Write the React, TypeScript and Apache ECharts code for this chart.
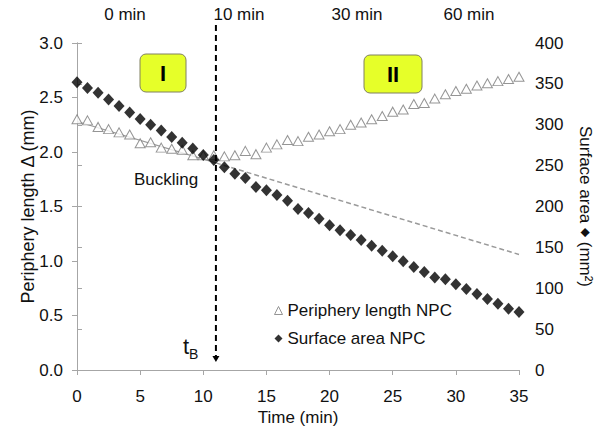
import React, { useEffect, useRef } from "react";
import * as echarts from "echarts";

const times = [
  0, 0.83, 1.67, 2.5, 3.33, 4.17, 5, 5.83, 6.67, 7.5, 8.33, 9.17, 10, 10.83,
  11.67, 12.5, 13.33, 14.17, 15, 15.83, 16.67, 17.5, 18.33, 19.17, 20, 20.83,
  21.67, 22.5, 23.33, 24.17, 25, 25.83, 26.67, 27.5, 28.33, 29.17, 30, 30.83,
  31.67, 32.5, 33.33, 34.17, 35,
];

const peripheryLength = [
  2.3, 2.29, 2.23, 2.21, 2.18, 2.16, 2.08, 2.09, 2.04, 2.03,
  2.02, 1.97, 1.97, 1.97, 1.96, 1.97, 2.01, 1.98, 2.04, 2.07,
  2.11, 2.1, 2.14, 2.16, 2.19, 2.21, 2.25, 2.27, 2.3, 2.33,
  2.37, 2.39, 2.44, 2.45, 2.49, 2.53, 2.56, 2.58, 2.61, 2.63,
  2.65, 2.67, 2.69,
];

const surfaceArea = [
  352, 345, 339, 331, 323, 315, 307, 300, 293, 285,
  278, 271, 263, 257, 248, 240, 235, 224, 220, 214,
  207, 197, 192, 185, 177, 171, 165, 159, 152, 146,
  139, 133, 126, 120, 113, 111, 105, 99, 93, 87,
  81, 75, 71,
];

const fitPhaseI = [
  [0, 2.28],
  [11, 1.9],
];
const fitExtrapolated = [
  [11, 1.9],
  [35, 1.06],
];

const bucklingTime = 11;
const phaseTimeLabels = ["0 min", "10 min", "30 min", "60 min"];
const phaseTimeLabelX = [125, 239, 357, 469];
const phaseNames = ["I", "II"];

const FONT = "'Liberation Sans', Arial, sans-serif";
const AXIS_GRAY = "#a6a6a6";
const TXT = "#111";

export default function App() {
  const ref = useRef<HTMLDivElement>(null);

  useEffect(() => {
    if (!ref.current) return;
    const chart = echarts.init(ref.current, undefined, { renderer: "svg" });

    const axisCommon = {
      axisLine: { show: true, lineStyle: { color: AXIS_GRAY, width: 1 } },
      axisTick: { show: true, length: 5, lineStyle: { color: AXIS_GRAY } },
      splitLine: { show: false },
    };

    chart.setOption({
      animation: false,
      backgroundColor: "#ffffff",
      textStyle: { fontFamily: FONT },
      grid: {
        left: 77,
        right: 76,
        top: 43,
        bottom: 57,
        containLabel: false,
        outerBoundsMode: "none",
      },
      xAxis: [
        {
          type: "value",
          min: 0,
          max: 35,
          interval: 5,
          position: "bottom",
          ...axisCommon,
          axisLabel: { color: TXT, fontSize: 17, fontFamily: FONT, margin: 18 },
          name: "Time (min)",
          nameLocation: "middle",
          nameGap: 39,
          nameMoveOverlap: false,
          nameTextStyle: { color: TXT, fontSize: 17, fontFamily: FONT, lineHeight: 17 },
        },
        {
          type: "value",
          min: 0,
          max: 35,
          position: "top",
          axisLine: { show: true, lineStyle: { color: AXIS_GRAY, width: 1 } },
          axisTick: { show: false },
          axisLabel: { show: false },
          splitLine: { show: false },
        },
      ],
      yAxis: [
        {
          type: "value",
          min: 0,
          max: 3,
          interval: 0.5,
          position: "left",
          ...axisCommon,
          axisLabel: {
            color: TXT,
            fontSize: 17,
            fontFamily: FONT,
            margin: 14,
            formatter: (v: number) => v.toFixed(1),
          },
          name: "Periphery length \u0394 (mm)",
          nameLocation: "middle",
          nameGap: 40,
          nameMoveOverlap: false,
          nameTextStyle: { color: TXT, fontSize: 18, fontFamily: FONT },
        },
        {
          type: "value",
          min: 0,
          max: 400,
          interval: 50,
          position: "right",
          ...axisCommon,
          axisLabel: { color: TXT, fontSize: 17, fontFamily: FONT, margin: 16 },
          name: "Surface area {d|\u25C6} (mm\u00B2)",
          nameLocation: "middle",
          nameRotate: -90,
          nameGap: 58,
          nameMoveOverlap: false,
          nameTextStyle: {
            color: TXT,
            fontSize: 17,
            fontFamily: FONT,
            lineHeight: 17,
            rich: { d: { fontSize: 12, color: TXT, fontFamily: FONT } },
          },
        },
      ],
      legend: {
        orient: "vertical",
        left: 269,
        top: 297,
        itemWidth: 8,
        itemHeight: 8,
        itemGap: 11,
        itemTextGap: 4,
        textStyle: { color: TXT, fontSize: 17, fontFamily: FONT },
        data: [
          { name: "Periphery length NPC", itemStyle: { color: "#fff", borderColor: "#7a7a7a", borderWidth: 1 } },
          { name: "Surface area NPC" },
        ],
      },
      series: [
        {
          name: "fitI",
          type: "line",
          xAxisIndex: 0,
          yAxisIndex: 0,
          data: fitPhaseI,
          showSymbol: false,
          symbol: "none",
          lineStyle: { color: "#9a9a9a", width: 1.2 },
          z: 1,
        },
        {
          name: "fitII",
          type: "line",
          xAxisIndex: 0,
          yAxisIndex: 0,
          data: fitExtrapolated,
          showSymbol: false,
          symbol: "none",
          lineStyle: { color: "#9a9a9a", width: 1.5, type: [5, 3] },
          z: 1,
        },
        {
          name: "Periphery length NPC",
          type: "scatter",
          xAxisIndex: 0,
          yAxisIndex: 0,
          data: times.map((t, i) => [t, peripheryLength[i]]),
          symbol: "triangle",
          symbolSize: [10, 9],
          itemStyle: { color: "#ffffff", borderColor: "#7a7a7a", borderWidth: 1 },
          z: 3,
        },
        {
          name: "Surface area NPC",
          type: "scatter",
          xAxisIndex: 0,
          yAxisIndex: 1,
          data: times.map((t, i) => [t, surfaceArea[i]]),
          symbol: "diamond",
          symbolSize: [11, 12],
          itemStyle: { color: "#000000" },
          z: 4,
        },
      ],
    });

    const bx = chart.convertToPixel({ xAxisIndex: 0 }, bucklingTime) as number;
    const y0 = chart.convertToPixel({ yAxisIndex: 0 }, 0) as number;

    chart.setOption({
      graphic: [
        ...phaseTimeLabels.map((label, i) => ({
          type: "text",
          x: phaseTimeLabelX[i],
          y: 14,
          style: {
            text: label,
            fill: TXT,
            font: `17px ${FONT}`,
            align: "center",
            verticalAlign: "middle",
          },
        })),
        {
          type: "line",
          shape: { x1: bx, y1: 25, x2: bx, y2: y0 - 12 },
          style: { stroke: "#000", lineWidth: 2, lineDash: [6, 4] },
          z: 10,
        },
        {
          type: "polygon",
          shape: {
            points: [
              [bx - 3.5, y0 - 14],
              [bx + 3.5, y0 - 14],
              [bx, y0 - 8],
            ],
          },
          style: { fill: "#000" },
          z: 10,
        },
        {
          type: "rect",
          shape: { x: 140, y: 54, width: 46, height: 38, r: 6 },
          style: { fill: "#e6ff29", stroke: "#808060", lineWidth: 1 },
        },
        {
          type: "text",
          x: 163,
          y: 73,
          style: {
            text: phaseNames[0],
            fill: "#000",
            font: `bold 22px ${FONT}`,
            align: "center",
            verticalAlign: "middle",
          },
        },
        {
          type: "rect",
          shape: { x: 364, y: 55, width: 58, height: 38, r: 6 },
          style: { fill: "#e6ff29", stroke: "#808060", lineWidth: 1 },
        },
        {
          type: "text",
          x: 393,
          y: 74,
          style: {
            text: phaseNames[1],
            fill: "#000",
            font: `bold 22px ${FONT}`,
            align: "center",
            verticalAlign: "middle",
          },
        },
        {
          type: "text",
          x: 166,
          y: 179,
          style: {
            text: "Buckling",
            fill: TXT,
            font: `17px ${FONT}`,
            align: "center",
            verticalAlign: "middle",
          },
        },
        {
          type: "text",
          x: 183,
          y: 346,
          style: {
            text: "{t|t}{b|B}",
            rich: {
              t: { fill: TXT, font: `22px ${FONT}`, verticalAlign: "bottom" },
              b: { fill: TXT, font: `14px ${FONT}`, verticalAlign: "bottom", padding: [0, 0, -4, 0] },
            },
            align: "left",
            verticalAlign: "middle",
          },
        },
      ],
    });

    return () => chart.dispose();
  }, []);

  return (
    <div
      ref={ref}
      style={{ position: "fixed", left: 0, top: 0, width: 595, height: 427 }}
    />
  );
}
